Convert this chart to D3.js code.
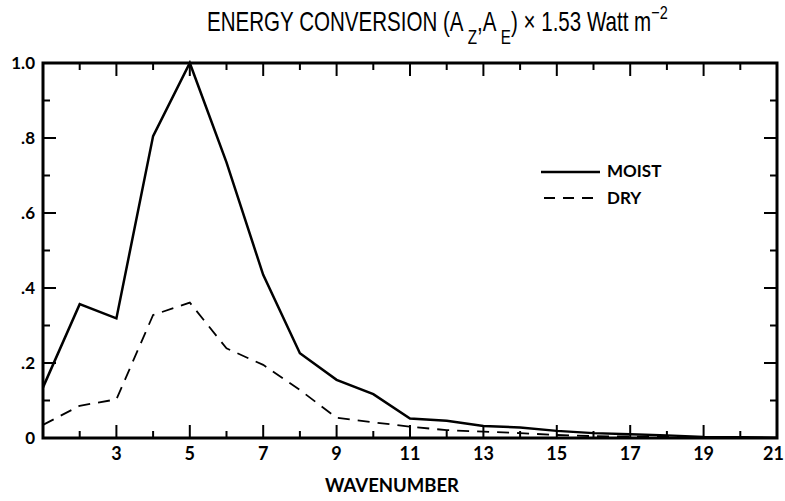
<!DOCTYPE html>
<html>
<head>
<meta charset="utf-8">
<script src="https://cdn.jsdelivr.net/npm/d3@7"></script>
<style>
  body { margin: 0; background: #fff; }
  .title { font-family: "Liberation Sans Narrow", "Liberation Sans", Arial, sans-serif; }
  .lbl { font-family: Lato, "DejaVu Sans", sans-serif; font-weight: 700; }
</style>
</head>
<body>
<div id="chart"></div>
<script>
// wavenumbers 1..21
var wavenumber = d3.range(1, 22);
var moist = [0.135, 0.357, 0.319, 0.805, 1.0, 0.735, 0.435, 0.226, 0.155, 0.117, 0.052,
             0.046, 0.032, 0.028, 0.019, 0.013, 0.010, 0.007, 0.003, 0.002, 0.001];
var dry   = [0.035, 0.086, 0.103, 0.328, 0.361, 0.239, 0.195, 0.128, 0.054, 0.042, 0.030,
             0.021, 0.017, 0.013, 0.008, 0.005, 0.004, 0.003, 0.002, 0.001, 0.0];
var xTickLabels = [3, 5, 7, 9, 11, 13, 15, 17, 19, 21];
var yTickLabels = [0, 0.2, 0.4, 0.6, 0.8, 1.0];

var W = 785, H = 501;
var margin = { top: 63, right: 8, bottom: 63, left: 43 };
var width = W - margin.left - margin.right,
    height = H - margin.top - margin.bottom;

var svg = d3.select("#chart").append("svg")
    .attr("width", W)
    .attr("height", H);

var g = svg.append("g")
    .attr("transform", "translate(" + margin.left + "," + margin.top + ")");

// scales
var x = d3.scaleLinear().domain([1, 21]).range([0, width]);
var y = d3.scaleLinear().domain([0, 1]).range([height, 0]);

// inward ticks on all four sides
var xMinor = d3.range(2, 21);
var yMinor = d3.range(1, 10).map(function(d){ return d / 10; });
function isMajorX(d){ return d % 2 === 1; }
function isMajorY(d){ return Math.round(d * 10) % 2 === 0; }

g.selectAll("line.xb").data(xMinor).enter().append("line")
    .attr("x1", function(d){ return x(d); }).attr("x2", function(d){ return x(d); })
    .attr("y1", height).attr("y2", function(d){ return height - (isMajorX(d) ? 13 : 7); })
    .attr("stroke", "#000").attr("stroke-width", 2);
g.selectAll("line.xt").data(xMinor).enter().append("line")
    .attr("x1", function(d){ return x(d); }).attr("x2", function(d){ return x(d); })
    .attr("y1", 0).attr("y2", function(d){ return isMajorX(d) ? 13 : 7; })
    .attr("stroke", "#000").attr("stroke-width", 2);
g.selectAll("line.yl").data(yMinor).enter().append("line")
    .attr("y1", function(d){ return y(d); }).attr("y2", function(d){ return y(d); })
    .attr("x1", 0).attr("x2", function(d){ return isMajorY(d) ? 13 : 7; })
    .attr("stroke", "#000").attr("stroke-width", 2);
g.selectAll("line.yr").data(yMinor).enter().append("line")
    .attr("y1", function(d){ return y(d); }).attr("y2", function(d){ return y(d); })
    .attr("x1", width).attr("x2", function(d){ return width - (isMajorY(d) ? 13 : 7); })
    .attr("stroke", "#000").attr("stroke-width", 2);

// frame
g.append("rect")
    .attr("width", width).attr("height", height)
    .attr("fill", "none").attr("stroke", "#000").attr("stroke-width", 3);

// tick labels (last one pulled in so it stays on the page)
g.selectAll("text.xl").data(xTickLabels).enter().append("text")
    .attr("class", "lbl")
    .attr("x", function(d){ return d === 21 ? width + 7 : x(d); })
    .attr("y", height + 22)
    .attr("text-anchor", function(d){ return d === 21 ? "end" : "middle"; })
    .attr("font-size", 18)
    .text(function(d){ return d; });

g.selectAll("text.yl").data(yTickLabels).enter().append("text")
    .attr("class", "lbl")
    .attr("x", -8)
    .attr("y", function(d){ return y(d); })
    .attr("dy", "0.36em")
    .attr("text-anchor", "end")
    .attr("font-size", 17)
    .text(function(d){ return d === 0 ? "0" : d === 1 ? "1.0" : d3.format(".1f")(d).replace(/^0/, ""); });

// lines
var line = d3.line()
    .x(function(d){ return x(d[0]); })
    .y(function(d){ return y(d[1]); });

g.append("path")
    .datum(d3.zip(wavenumber, moist))
    .attr("d", line)
    .attr("fill", "none").attr("stroke", "#000").attr("stroke-width", 2.5)
    .attr("stroke-linejoin", "miter");

g.append("path")
    .datum(d3.zip(wavenumber, dry))
    .attr("d", line)
    .attr("fill", "none").attr("stroke", "#000").attr("stroke-width", 1.8)
    .attr("stroke-dasharray", "12,8");

// legend
var leg = svg.append("g");
leg.append("line").attr("x1", 541).attr("x2", 600).attr("y1", 172).attr("y2", 172)
    .attr("stroke", "#000").attr("stroke-width", 2.5);
leg.append("line").attr("x1", 544).attr("x2", 600).attr("y1", 198).attr("y2", 198)
    .attr("stroke", "#000").attr("stroke-width", 1.8).attr("stroke-dasharray", "11,8");
leg.append("text").attr("class", "lbl").attr("x", 607).attr("y", 177)
    .attr("font-size", 17).text("MOIST");
leg.append("text").attr("class", "lbl").attr("x", 607).attr("y", 204)
    .attr("font-size", 17).text("DRY");

// axis title
svg.append("text").attr("class", "lbl")
    .attr("x", 392).attr("y", 492)
    .attr("text-anchor", "middle")
    .attr("font-size", 18.5)
    .text("WAVENUMBER");

// chart title, squeezed horizontally to look condensed
var tg = svg.append("g");
var t = tg.append("text").attr("class", "title")
    .attr("x", 0).attr("y", 0)
    .attr("font-size", 27);
t.append("tspan").text("ENERGY CONVERSION (A");
t.append("tspan").attr("dy", 13).attr("font-size", 20).text(" Z");
t.append("tspan").attr("dy", -13).text(",A");
t.append("tspan").attr("dy", 13).attr("font-size", 20).text(" E");
t.append("tspan").attr("dy", -13).text(") \u00d7 1.53 Watt m");
t.append("tspan").attr("dy", -12).attr("font-size", 19).text("\u22122");
var bb = t.node().getBBox();
var sx = 461 / bb.width;
tg.attr("transform", "translate(" + (207 - bb.x * sx) + ",31) scale(" + sx + ",1)");
</script>
</body>
</html>
